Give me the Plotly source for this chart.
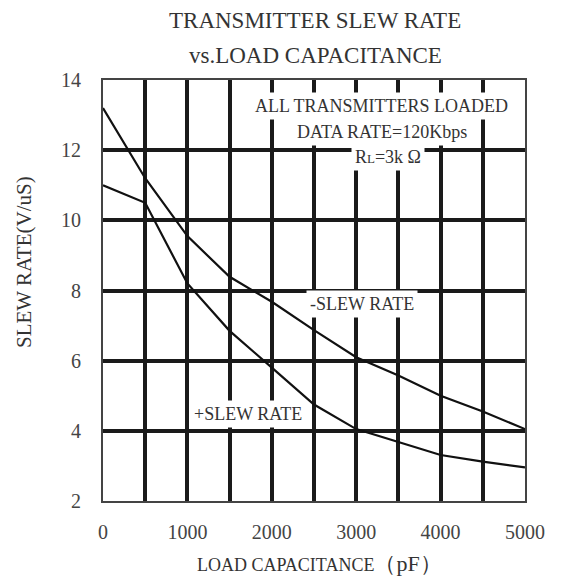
import plotly.graph_objects as go

# Data
capacitance = [0, 500, 1000, 1500, 2000, 2500, 3000, 3500, 4000, 4500, 5000]
neg_slew = [13.2, 11.2, 9.55, 8.39, 7.68, 6.87, 6.1, 5.58, 5.0, 4.55, 4.05]
pos_slew = [11.0, 10.5, 8.2, 6.85, 5.8, 4.75, 4.05, 3.69, 3.31, 3.12, 2.96]

x_tickvals = [0, 1000, 2000, 3000, 4000, 5000]
x_ticktext = ["0", "1000", "2000", "3000", "4000", "5000"]
x_gridvals = [500, 1000, 1500, 2000, 2500, 3000, 3500, 4000, 4500]
y_tickvals = [2, 4, 6, 8, 10, 12, 14]
y_ticktext = ["2", "4", "6", "8", "10", "12", "14"]
y_gridvals = [4, 6, 8, 10, 12]

FONT = "Liberation Serif"
W, H = 561, 576
L, R, T, B = 103, 36, 80, 75
pw, ph = W - L - R, H - T - B


def px(xp):
    return (xp - L) / pw


def py(yp):
    return (H - B - yp) / ph


fig = go.Figure()
fig.add_trace(go.Scatter(x=capacitance, y=neg_slew, mode="lines",
                         line=dict(color="#111", width=2.2), showlegend=False))
fig.add_trace(go.Scatter(x=capacitance, y=pos_slew, mode="lines",
                         line=dict(color="#111", width=2.2), showlegend=False))

fig.update_layout(
    width=W, height=H,
    margin=dict(l=L, r=R, t=T, b=B),
    paper_bgcolor="white", plot_bgcolor="white",
    font=dict(family=FONT, color="#333"),
    showlegend=False,
)
fig.update_xaxes(range=[0, 5000], tickmode="array", tickvals=x_tickvals, ticktext=x_ticktext,
                 showgrid=False,
                 minor=dict(tickmode="array", tickvals=x_gridvals, showgrid=True,
                            gridcolor="#1a1a1a", gridwidth=3.5, ticks=""),
                 showline=True, linecolor="#444", linewidth=2, mirror=True,
                 zeroline=False, ticks="", tickfont=dict(size=20, color="#444"),
                 ticklabelstandoff=12)
fig.update_yaxes(range=[2, 14], tickmode="array", tickvals=y_tickvals, ticktext=y_ticktext,
                 showgrid=False,
                 minor=dict(tickmode="array", tickvals=y_gridvals, showgrid=True,
                            gridcolor="#1a1a1a", gridwidth=3.5, ticks=""),
                 showline=True, linecolor="#444", linewidth=2, mirror=True,
                 zeroline=False, ticks="", tickfont=dict(size=20, color="#444"),
                 ticklabelstandoff=16)

anns = [
    dict(text="TRANSMITTER SLEW RATE", x=px(315), y=py(21), size=23),
    dict(text="vs.LOAD CAPACITANCE", x=px(315), y=py(55), size=23),
]
for a in anns:
    fig.add_annotation(text=a["text"], x=a["x"], y=a["y"], xref="paper", yref="paper",
                       xanchor="center", yanchor="middle", showarrow=False,
                       font=dict(size=a["size"], family=FONT, color="#333"))

fig.add_annotation(text="SLEW RATE(V/uS)", x=px(24), y=py(262), xref="paper", yref="paper",
                   textangle=-90, xanchor="center", yanchor="middle", showarrow=False,
                   font=dict(size=21, family=FONT, color="#333"))
fig.add_annotation(text="LOAD CAPACITANCE<span style='font-size:22px'>（pF）</span>",
                   x=px(195), y=py(563), xref="paper", yref="paper",
                   xanchor="left", yanchor="middle", showarrow=False,
                   font=dict(size=18, family=FONT, color="#333"))

labels = [
    ("ALL TRANSMITTERS LOADED", 381, 106),
    ("DATA RATE=120Kbps", 382, 132),
    ("R<span style='font-size:13px'>L</span>=3k Ω", 388, 157),
    ("-SLEW RATE", 362, 304),
    ("+SLEW RATE", 248, 414),
]
for text, xp, yp in labels:
    fig.add_annotation(text=text, x=px(xp), y=py(yp), xref="paper", yref="paper",
                       xanchor="center", yanchor="middle", showarrow=False,
                       bgcolor="white", borderpad=3,
                       font=dict(size=18, family=FONT, color="#333"))

fig.write_html("out.html", config={"displayModeBar": False},
               post_script="document.body.style.margin='0px';document.body.style.overflow='hidden';")
